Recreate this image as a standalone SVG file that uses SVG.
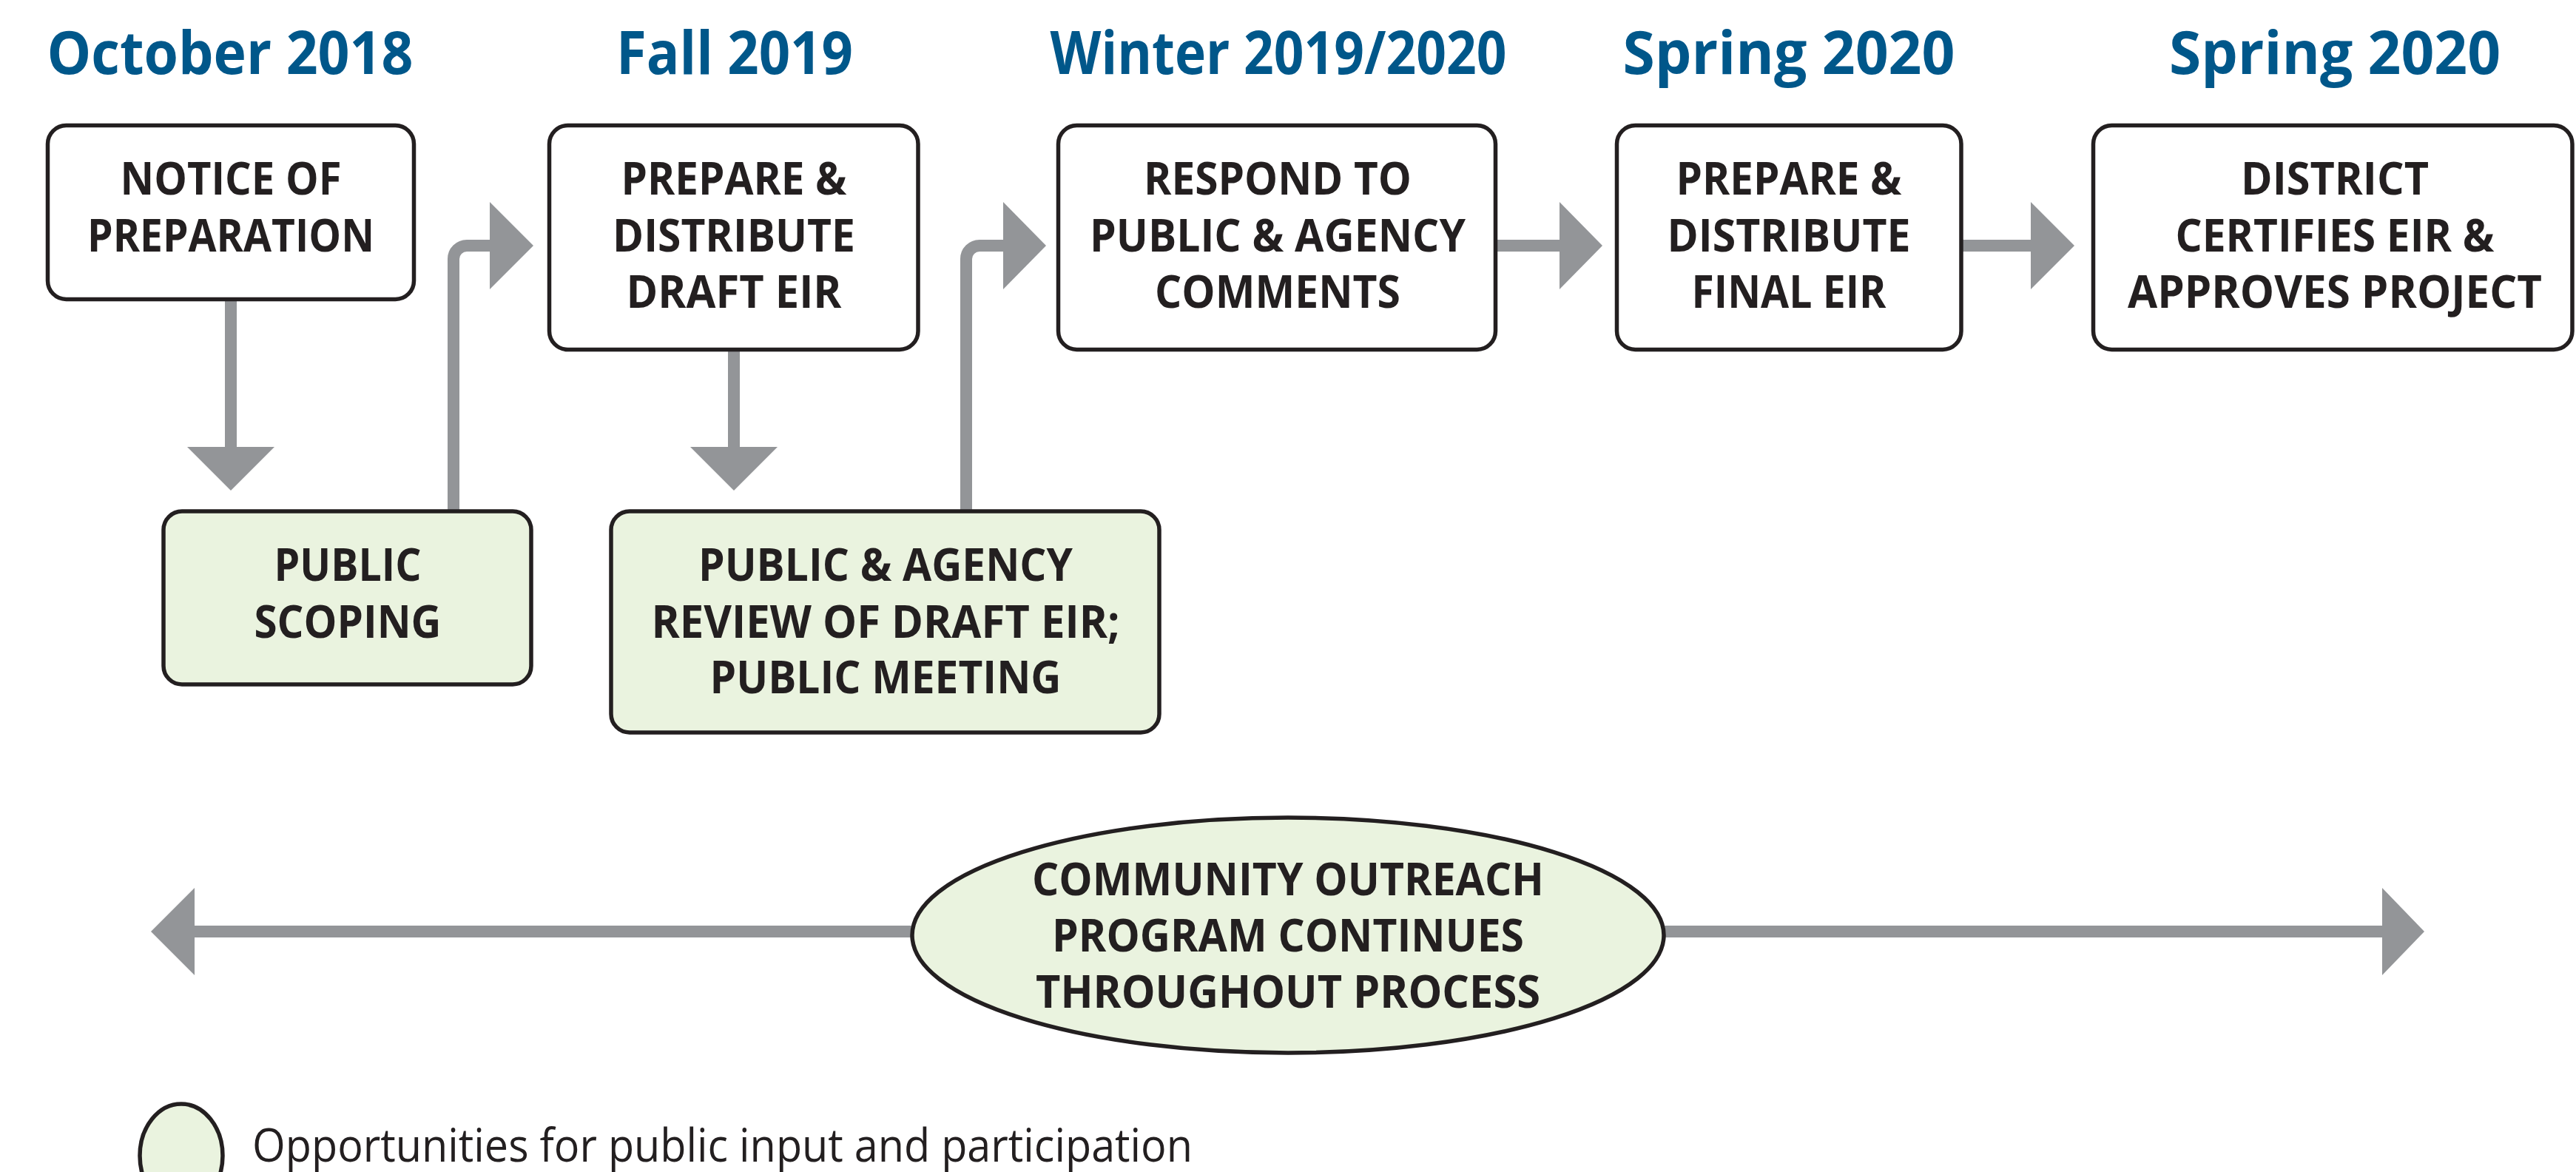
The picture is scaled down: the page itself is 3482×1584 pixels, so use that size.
<svg xmlns="http://www.w3.org/2000/svg" width="3482" height="1584" viewBox="0 0 3482 1584">
<style>
.title{font-family:"Open Sans","Noto Sans","Liberation Sans",sans-serif;font-weight:700;font-size:81px;fill:#00578a;text-anchor:middle}
.lbl{font-family:"Open Sans","Noto Sans","Liberation Sans",sans-serif;font-weight:700;font-size:60px;fill:#231f20;text-anchor:middle}
.leg{font-family:"Open Sans","Noto Sans","Liberation Sans",sans-serif;font-weight:400;font-size:62px;fill:#231f20}
.box{fill:#ffffff;stroke:#231f20;stroke-width:5.5}
.gbox{fill:#eaf3df;stroke:#231f20;stroke-width:5.5}
.ln{fill:none;stroke:#939598;stroke-width:16}
.hd{fill:#939598}
</style>
<rect width="3482" height="1584" fill="#ffffff"/>
<g id="titles">
<text class="title" x="311" y="100" textLength="495" lengthAdjust="spacingAndGlyphs">October 2018</text>
<text class="title" x="993" y="100" textLength="320" lengthAdjust="spacingAndGlyphs">Fall 2019</text>
<text class="title" x="1728" y="100" textLength="617" lengthAdjust="spacingAndGlyphs">Winter 2019/2020</text>
<text class="title" x="2418" y="100" textLength="449" lengthAdjust="spacingAndGlyphs">Spring 2020</text>
<text class="title" x="3156" y="100" textLength="448" lengthAdjust="spacingAndGlyphs">Spring 2020</text>
</g>
<g id="connectors">
<line class="ln" x1="312" y1="405" x2="312" y2="606"/>
<polygon class="hd" points="253,604 371,604 312,663"/>
<path class="ln" d="M613 690 V350 A18 18 0 0 1 631 332 H664"/>
<polygon class="hd" points="662,273 662,391 721,332"/>
<line class="ln" x1="992" y1="473" x2="992" y2="606"/>
<polygon class="hd" points="933,604 1051,604 992,663"/>
<path class="ln" d="M1306 690 V350 A18 18 0 0 1 1324 332 H1358"/>
<polygon class="hd" points="1356,273 1356,391 1414,332"/>
<line class="ln" x1="2022" y1="332" x2="2110" y2="332"/>
<polygon class="hd" points="2108,273 2108,391 2166,332"/>
<line class="ln" x1="2652" y1="332" x2="2747" y2="332"/>
<polygon class="hd" points="2745,273 2745,391 2804,332"/>
<line class="ln" x1="261" y1="1259" x2="3222" y2="1259"/>
<polygon class="hd" points="263,1200 263,1318 204,1259"/>
<polygon class="hd" points="3220,1200 3220,1318 3277,1259"/>
</g>
<g id="node-notice">
<rect class="box" x="64.5" y="169.5" width="495" height="235" rx="25"/>
<text class="lbl" x="312" y="263" textLength="299" lengthAdjust="spacingAndGlyphs">NOTICE OF</text>
<text class="lbl" x="312" y="340" textLength="388" lengthAdjust="spacingAndGlyphs">PREPARATION</text>
</g>
<g id="node-draft">
<rect class="box" x="742.5" y="169.5" width="498.5" height="303" rx="25"/>
<text class="lbl" x="992" y="263" textLength="305" lengthAdjust="spacingAndGlyphs">PREPARE &amp;</text>
<text class="lbl" x="992" y="340" textLength="328" lengthAdjust="spacingAndGlyphs">DISTRIBUTE</text>
<text class="lbl" x="992" y="416" textLength="291" lengthAdjust="spacingAndGlyphs">DRAFT EIR</text>
</g>
<g id="node-respond">
<rect class="box" x="1430.5" y="169.5" width="591" height="303" rx="25"/>
<text class="lbl" x="1727" y="263" textLength="362" lengthAdjust="spacingAndGlyphs">RESPOND TO</text>
<text class="lbl" x="1727" y="340" textLength="508" lengthAdjust="spacingAndGlyphs">PUBLIC &amp; AGENCY</text>
<text class="lbl" x="1727" y="416" textLength="332" lengthAdjust="spacingAndGlyphs">COMMENTS</text>
</g>
<g id="node-final">
<rect class="box" x="2185.5" y="169.5" width="465.5" height="303" rx="25"/>
<text class="lbl" x="2418" y="263" textLength="305" lengthAdjust="spacingAndGlyphs">PREPARE &amp;</text>
<text class="lbl" x="2418" y="340" textLength="329" lengthAdjust="spacingAndGlyphs">DISTRIBUTE</text>
<text class="lbl" x="2418" y="416" textLength="263" lengthAdjust="spacingAndGlyphs">FINAL EIR</text>
</g>
<g id="node-certify">
<rect class="box" x="2829.5" y="169.5" width="647.5" height="303" rx="25"/>
<text class="lbl" x="3156" y="263" textLength="254" lengthAdjust="spacingAndGlyphs">DISTRICT</text>
<text class="lbl" x="3156" y="340" textLength="431" lengthAdjust="spacingAndGlyphs">CERTIFIES EIR &amp;</text>
<text class="lbl" x="3156" y="416" textLength="560" lengthAdjust="spacingAndGlyphs">APPROVES PROJECT</text>
</g>
<g id="node-scoping">
<rect class="gbox" x="221" y="691" width="497" height="234" rx="25"/>
<text class="lbl" x="470" y="785" textLength="199" lengthAdjust="spacingAndGlyphs">PUBLIC</text>
<text class="lbl" x="470" y="862" textLength="253" lengthAdjust="spacingAndGlyphs">SCOPING</text>
</g>
<g id="node-review">
<rect class="gbox" x="826" y="691" width="741" height="299" rx="25"/>
<text class="lbl" x="1197" y="785" textLength="506" lengthAdjust="spacingAndGlyphs">PUBLIC &amp; AGENCY</text>
<text class="lbl" x="1197" y="862" textLength="633" lengthAdjust="spacingAndGlyphs">REVIEW OF DRAFT EIR;</text>
<text class="lbl" x="1197" y="937" textLength="475" lengthAdjust="spacingAndGlyphs">PUBLIC MEETING</text>
</g>
<g id="node-outreach">
<ellipse class="gbox" cx="1741" cy="1264" rx="508" ry="159" stroke-width="5"/>
<text class="lbl" x="1741" y="1210" textLength="692" lengthAdjust="spacingAndGlyphs">COMMUNITY OUTREACH</text>
<text class="lbl" x="1741" y="1286" textLength="638" lengthAdjust="spacingAndGlyphs">PROGRAM CONTINUES</text>
<text class="lbl" x="1741" y="1362" textLength="682" lengthAdjust="spacingAndGlyphs">THROUGHOUT PROCESS</text>
</g>
<g id="legend">
<ellipse class="gbox" cx="245" cy="1562" rx="56" ry="70" stroke-width="5"/>
<text class="leg" x="341" y="1570" textLength="1271" lengthAdjust="spacingAndGlyphs">Opportunities for public input and participation</text>
</g>
</svg>
